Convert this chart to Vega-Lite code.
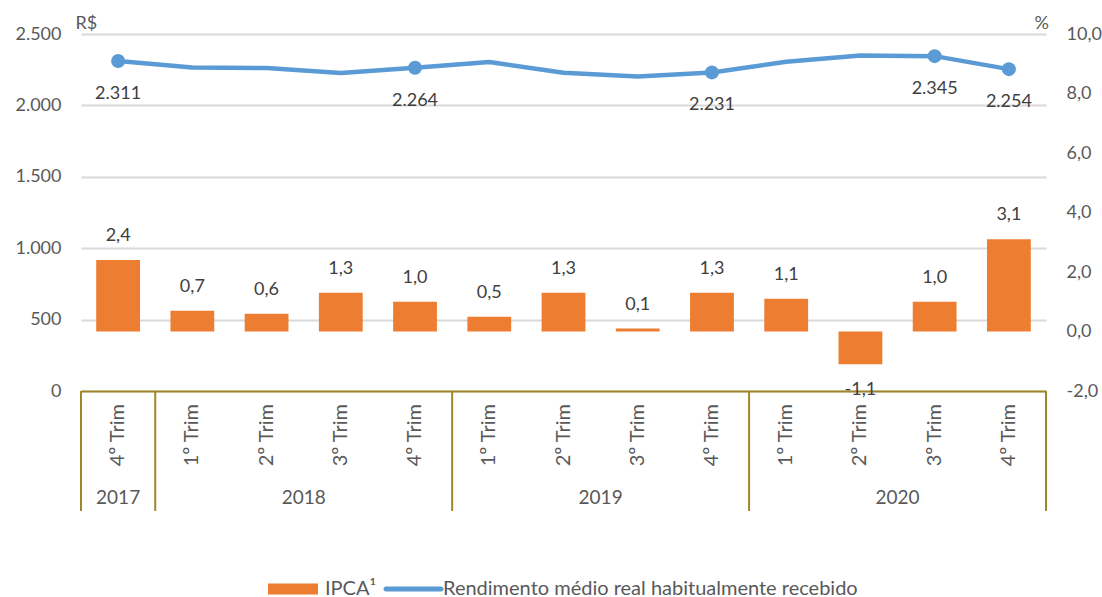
{
  "$schema": "https://vega.github.io/schema/vega-lite/v6.json",
  "padding": {"left": 14, "top": 14, "right": 0, "bottom": 0},
  "autosize": {"type": "pad"},
  "bounds": "flush",
  "config": {
    "locale": {"number": {"decimal": ",", "thousands": ".", "grouping": [3], "currency": ["R$ ", ""], "minus": "-"}},
    "font": "Lato",
    "view": {"stroke": null},
    "axis": {"labelFont": "Lato", "labelFontSize": 18, "labelColor": "#595959", "ticks": false, "domain": false, "titleFont": "Lato", "titleFontSize": 18, "titleFontWeight": "normal", "titleColor": "#595959"},
    "text": {"font": "Lato", "fontSize": 18, "fill": "#404040"}
  },
  "datasets": {
    "dados": [
      {"periodo": "2017 4T", "trimestre": "4º Trim", "ano": "2017", "ipca": 2.4, "rendimento": 2311, "destaque": true},
      {"periodo": "2018 1T", "trimestre": "1º Trim", "ano": "2018", "ipca": 0.7, "rendimento": 2266, "destaque": false},
      {"periodo": "2018 2T", "trimestre": "2º Trim", "ano": "2018", "ipca": 0.6, "rendimento": 2262, "destaque": false},
      {"periodo": "2018 3T", "trimestre": "3º Trim", "ano": "2018", "ipca": 1.3, "rendimento": 2227, "destaque": false},
      {"periodo": "2018 4T", "trimestre": "4º Trim", "ano": "2018", "ipca": 1.0, "rendimento": 2264, "destaque": true},
      {"periodo": "2019 1T", "trimestre": "1º Trim", "ano": "2019", "ipca": 0.5, "rendimento": 2304, "destaque": false},
      {"periodo": "2019 2T", "trimestre": "2º Trim", "ano": "2019", "ipca": 1.3, "rendimento": 2228, "destaque": false},
      {"periodo": "2019 3T", "trimestre": "3º Trim", "ano": "2019", "ipca": 0.1, "rendimento": 2203, "destaque": false},
      {"periodo": "2019 4T", "trimestre": "4º Trim", "ano": "2019", "ipca": 1.3, "rendimento": 2231, "destaque": true},
      {"periodo": "2020 1T", "trimestre": "1º Trim", "ano": "2020", "ipca": 1.1, "rendimento": 2305, "destaque": false},
      {"periodo": "2020 2T", "trimestre": "2º Trim", "ano": "2020", "ipca": -1.1, "rendimento": 2350, "destaque": false},
      {"periodo": "2020 3T", "trimestre": "3º Trim", "ano": "2020", "ipca": 1.0, "rendimento": 2345, "destaque": true},
      {"periodo": "2020 4T", "trimestre": "4º Trim", "ano": "2020", "ipca": 3.1, "rendimento": 2254, "destaque": true}
    ]
  },
  "data": {"name": "dados"},
  "spacing": 0,
  "vconcat": [
    {
      "width": 965,
      "height": 357,
      "encoding": {
        "x": {
          "field": "periodo", "type": "nominal", "sort": null,
          "scale": {"domain": ["2017 4T","2018 1T","2018 2T","2018 3T","2018 4T","2019 1T","2019 2T","2019 3T","2019 4T","2020 1T","2020 2T","2020 3T","2020 4T"], "paddingInner": 0, "paddingOuter": 0},
          "axis": {"title": null, "labels": false, "ticks": false, "domain": true, "domainColor": "#A0862A", "domainWidth": 2, "grid": false}
        }
      },
      "layer": [
        {
          "encoding": {
            "y": {
              "field": "ipca", "type": "quantitative",
              "scale": {"domain": [-2, 10], "nice": false, "zero": false},
              "axis": {"orient": "right", "title": "%", "titleAngle": 0, "titleX": -12, "titleY": -6, "titleAlign": "left", "titleBaseline": "alphabetic", "values": [-2, 0, 2, 4, 6, 8, 10], "format": ".1f", "grid": false, "labelPadding": 20}
            }
          },
          "layer": [
            {
              "mark": {"type": "bar", "width": {"band": 0.59}},
              "encoding": {
                "color": {
                  "datum": "IPCA¹", "type": "nominal",
                  "scale": {"domain": ["IPCA¹", "Rendimento médio real habitualmente recebido"], "range": ["#ED7D31", "#5B9BD5"]},
                  "legend": {
                    "orient": "none", "legendX": 217, "legendY": 545, "direction": "horizontal", "title": null, "padding": 0,
                    "symbolSize": 400, "labelFont": "Lato", "labelFontSize": 20, "labelColor": "#595959", "labelOffset": 7, "columnPadding": 6, "labelLimit": 0,
                    "symbolOpacity": 1,
                    "encode": {"symbols": {"update": {
                      "shape": {"signal": "datum.value === 'IPCA¹' ? 'M-4,-0.55H1V0.55H-4Z' : 'M-4,-0.25H1.5A0.25,0.25 0 0 1 1.5,0.25H-4A0.25,0.25 0 0 1 -4,-0.25Z'"},
                      "fill": {"signal": "datum.value === 'IPCA¹' ? '#ED7D31' : '#5B9BD5'"},
                      "stroke": {"value": "transparent"},
                      "strokeWidth": {"value": 0},
                      "opacity": {"value": 1}
                    }}}
                  }
                }
              }
            },
            {
              "transform": [{"filter": "datum.ipca >= 0"}],
              "mark": {"type": "text", "baseline": "middle", "align": "center", "dy": -24},
              "encoding": {"text": {"field": "ipca", "type": "quantitative", "format": ".1f"}}
            },
            {
              "transform": [{"filter": "datum.ipca < 0"}],
              "mark": {"type": "text", "baseline": "middle", "align": "center", "dy": 26},
              "encoding": {"text": {"field": "ipca", "type": "quantitative", "format": ".1f"}}
            }
          ]
        },
        {
          "encoding": {
            "y": {
              "field": "rendimento", "type": "quantitative",
              "scale": {"domain": [0, 2500], "nice": false},
              "axis": {"orient": "left", "title": "R$", "titleAngle": 0, "titleX": -6, "titleY": -6, "titleAlign": "left", "titleBaseline": "alphabetic", "values": [0, 500, 1000, 1500, 2000, 2500], "format": ",d", "grid": true, "gridColor": "#D9D9D9", "gridWidth": 2, "labelPadding": 20}
            }
          },
          "layer": [
            {
              "mark": {"type": "line", "strokeWidth": 4.5, "strokeCap": "round", "strokeJoin": "round"},
              "encoding": {"color": {"datum": "Rendimento médio real habitualmente recebido", "type": "nominal"}}
            },
            {
              "transform": [{"filter": "datum.destaque"}],
              "mark": {"type": "point", "filled": true, "size": 196, "opacity": 1, "color": "#5B9BD5"}
            },
            {
              "transform": [{"filter": "datum.destaque"}],
              "mark": {"type": "text", "baseline": "middle", "align": "center", "dy": 33},
              "encoding": {"text": {"field": "rendimento", "type": "quantitative", "format": ",d"}}
            }
          ]
        }
      ],
      "resolve": {"scale": {"y": "independent"}}
    },
    {
      "width": 965,
      "height": 120,
      "encoding": {
        "x": {
          "field": "periodo", "type": "nominal", "sort": null,
          "scale": {"domain": ["2017 4T","2018 1T","2018 2T","2018 3T","2018 4T","2019 1T","2019 2T","2019 3T","2019 4T","2020 1T","2020 2T","2020 3T","2020 4T"], "paddingInner": 0, "paddingOuter": 0},
          "axis": null
        }
      },
      "layer": [
        {
          "mark": {"type": "text", "angle": 270, "align": "right", "baseline": "middle", "fill": "#595959", "fontSize": 20},
          "encoding": {
            "text": {"field": "trimestre"},
            "y": {"datum": "trimestre", "type": "nominal", "scale": {"type": "point", "domain": ["trimestre", "ano"], "range": [13, 107], "padding": 0}, "axis": null}
          }
        },
        {
          "transform": [{"filter": "datum.periodo === '2017 4T'"}],
          "mark": {"type": "text", "align": "center", "baseline": "middle", "fill": "#595959", "fontSize": 19},
          "encoding": {"text": {"field": "ano"}, "y": {"datum": "ano", "type": "nominal"}}
        },
        {
          "transform": [{"filter": "datum.trimestre === '2º Trim'"}],
          "mark": {"type": "text", "align": "center", "baseline": "middle", "fill": "#595959", "fontSize": 19},
          "encoding": {
            "x": {"field": "periodo", "type": "nominal", "bandPosition": 1},
            "text": {"field": "ano"},
            "y": {"datum": "ano", "type": "nominal"}
          }
        },
        {
          "transform": [{"filter": "datum.trimestre === '1º Trim' || datum.periodo === '2017 4T'"}],
          "mark": {"type": "rule", "color": "#A0862A", "strokeWidth": 2},
          "encoding": {"x": {"field": "periodo", "type": "nominal", "bandPosition": 0}}
        },
        {
          "transform": [{"filter": "datum.periodo === '2020 4T'"}],
          "mark": {"type": "rule", "color": "#A0862A", "strokeWidth": 2},
          "encoding": {"x": {"field": "periodo", "type": "nominal", "bandPosition": 1}}
        }
      ]
    }
  ]
}
